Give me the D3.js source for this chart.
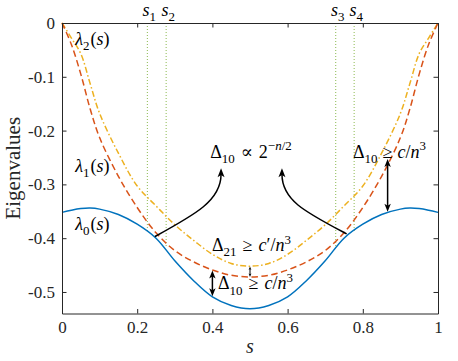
<!DOCTYPE html>
<html>
<head>
<meta charset="utf-8">
<script src="https://cdn.jsdelivr.net/npm/d3@7"></script>
<style>
  body { margin: 0; background: #fff; }
  svg { display: block; }
  text { font-family: "Liberation Serif", "DejaVu Serif", serif; }
</style>
</head>
<body>
<svg id="chart" width="458" height="361"></svg>
<script>
// values
const sGrid   = [0, 0.025, 0.05, 0.075, 0.1, 0.15, 0.2, 0.25, 0.3, 0.35, 0.4, 0.45, 0.5,
                 0.55, 0.6, 0.65, 0.7, 0.75, 0.8, 0.85, 0.9, 0.925, 0.95, 0.975, 1];
const lambda0 = [-0.352, -0.348, -0.345, -0.344, -0.346, -0.356, -0.374, -0.400, -0.442, -0.479, -0.509, -0.525, -0.531,
                 -0.525, -0.509, -0.479, -0.442, -0.400, -0.374, -0.356, -0.346, -0.344, -0.345, -0.348, -0.352];
const lambda1 = [0, -0.040, -0.095, -0.160, -0.213, -0.285, -0.343, -0.390, -0.423, -0.444, -0.459, -0.469, -0.472,
                 -0.469, -0.459, -0.444, -0.423, -0.390, -0.343, -0.285, -0.213, -0.160, -0.095, -0.040, 0];
const lambda2 = [0, -0.028, -0.057, -0.113, -0.168, -0.242, -0.303, -0.340, -0.375, -0.404, -0.430, -0.447, -0.452,
                 -0.447, -0.430, -0.404, -0.375, -0.340, -0.303, -0.242, -0.168, -0.113, -0.057, -0.028, 0];

const xTicks = [0, 0.2, 0.4, 0.6, 0.8, 1];
const xTickLabels = ['0', '0.2', '0.4', '0.6', '0.8', '1'];
const yTicks = [0, -0.1, -0.2, -0.3, -0.4, -0.5];
const yTickLabels = ['0', '-0.1', '-0.2', '-0.3', '-0.4', '-0.5'];

// s_1..s_4 marker lines (drawn from the top down to lambda0)
const sMarks = [0.227, 0.277, 0.728, 0.777];
const sMarkNames = ['1', '2', '3', '4'];
const sMarkEnds = [-0.387, -0.418, -0.418, -0.387];

// double arrows showing the gaps
const gapS    = [0.866, 0.4, 0.5];
const gapLow  = [-0.351, -0.508, -0.472];
const gapHigh = [-0.253, -0.460, -0.4525];

// curved arrows [start, ctrl1, ctrl2, tip] in (s, value)
const curveArrows = [
  [[0.247, -0.397], [0.354, -0.356], [0.423, -0.330], [0.423, -0.270]],
  [[0.757, -0.392], [0.649, -0.352], [0.585, -0.330], [0.585, -0.270]]
];

const width = 458, height = 361;
const margin = {left: 62, right: 20, top: 23, bottom: 47.5};
const font = '"Liberation Serif", "DejaVu Serif", serif';
const axisColor = '#262626';

const svg = d3.select('#chart');

const x = d3.scaleLinear().domain([0, 1]).range([margin.left, width - margin.right]);
const y = d3.scaleLinear().domain([-0.54, 0]).range([height - margin.bottom, margin.top]);

// marker lines
svg.append('g')
  .selectAll('line')
  .data(sMarks)
  .join('line')
  .attr('x1', d => x(d)).attr('x2', d => x(d))
  .attr('y1', y(0)).attr('y2', (d, i) => y(sMarkEnds[i]))
  .attr('stroke', '#77AC30')
  .attr('stroke-opacity', 0.85)
  .attr('stroke-width', 1)
  .attr('stroke-dasharray', '1,2');

// curves
const series = [
  {vals: lambda2, color: '#EDB120', dash: '6,2.5,1.5,2.5'},
  {vals: lambda1, color: '#D95319', dash: '6.5,3.5'},
  {vals: lambda0, color: '#0072BD', dash: null}
];
const line = d3.line()
  .x((d, i) => x(sGrid[i]))
  .y(d => y(d))
  .curve(d3.curveCatmullRom.alpha(0.5));

svg.append('g')
  .selectAll('path')
  .data(series)
  .join('path')
  .attr('d', d => line(d.vals))
  .attr('fill', 'none')
  .attr('stroke', d => d.color)
  .attr('stroke-width', 1.5)
  .attr('stroke-dasharray', d => d.dash);

// axes (box with inward ticks)
const xb = svg.append('g')
  .attr('transform', `translate(0,${y(-0.54)})`)
  .call(d3.axisBottom(x).tickValues(xTicks).tickFormat((d, i) => xTickLabels[i])
    .tickSizeInner(-4.5).tickSizeOuter(0).tickPadding(7));
const xt = svg.append('g')
  .attr('transform', `translate(0,${y(0)})`)
  .call(d3.axisTop(x).tickValues(xTicks).tickFormat('').tickSizeInner(-4.5).tickSizeOuter(0));
const yl = svg.append('g')
  .attr('transform', `translate(${x(0)},0)`)
  .call(d3.axisLeft(y).tickValues(yTicks).tickFormat((d, i) => yTickLabels[i])
    .tickSizeInner(-4.5).tickSizeOuter(0).tickPadding(7));
const yr = svg.append('g')
  .attr('transform', `translate(${x(1)},0)`)
  .call(d3.axisRight(y).tickValues(yTicks).tickFormat('').tickSizeInner(-4.5).tickSizeOuter(0));

[xb, xt, yl, yr].forEach(g => {
  g.attr('font-family', null);
  g.select('.domain').attr('stroke', axisColor).attr('stroke-width', 1);
  g.selectAll('.tick line').attr('stroke', axisColor).attr('stroke-width', 1);
  g.selectAll('.tick text')
    .attr('fill', axisColor)
    .style('font-family', font)
    .attr('font-size', 17);
});

// axis labels
svg.append('text')
  .attr('transform', `translate(20,${(y(0) + y(-0.54)) / 2}) rotate(-90)`)
  .attr('text-anchor', 'middle')
  .style('font-family', font)
  .attr('font-size', 21)
  .attr('fill', axisColor)
  .text('Eigenvalues');

svg.append('text')
  .attr('x', x(0.5)).attr('y', 353)
  .attr('text-anchor', 'middle')
  .style('font-family', font)
  .attr('font-size', 20)
  .attr('font-style', 'italic')
  .attr('fill', axisColor)
  .text('s');

// small helper for text with sub/superscripts
// parts: [string, flags, dx] with flags containing 'i' (italic), 'sub', 'sup'
function mathText(g, px, py, parts, size, anchor) {
  const t = g.append('text')
    .attr('x', px).attr('y', py)
    .style('font-family', font)
    .attr('font-size', size)
    .attr('fill', '#000')
    .attr('text-anchor', anchor || 'start');
  let shift = 0;
  parts.forEach(p => {
    const str = p[0], flags = p[1] || '', dx = p[2];
    const ts = t.append('tspan').text(str);
    const target = flags.includes('sub') ? size * 0.3 : flags.includes('sup') ? -size * 0.42 : 0;
    if (target !== shift) ts.attr('dy', target - shift);
    shift = target;
    if (flags.includes('sub') || flags.includes('sup')) ts.attr('font-size', size * 0.72);
    if (flags.includes('i')) ts.attr('font-style', 'italic');
    if (dx) ts.attr('dx', dx);
  });
  return t;
}

const ann = svg.append('g');

// s_k labels above the top axis
sMarks.forEach((s, i) => {
  mathText(ann, x(s) + 2, 16, [['s', 'i'], [sMarkNames[i], 'sub']], 18, 'middle');
});

// lambda labels
const lamS = [0.035, 0.035, 0.035];
const lamV = [-0.041, -0.277, -0.384];
const lamK = ['2', '1', '0'];
lamK.forEach((k, i) => {
  mathText(ann, x(lamS[i]), y(lamV[i]), [['λ', 'i'], [k, 'sub'], ['(', '', 1], ['s', 'i'], [')', '']], 18);
});

// gap annotations
mathText(ann, x(0.394), y(-0.251),
  [['Δ', ''], ['10', 'sub'], ['∝', '', 6], ['2', '', 6], ['−', 'sup'], ['n', 'sup i'], ['/2', 'sup']], 18);
mathText(ann, x(0.774), y(-0.251),
  [['Δ', ''], ['10', 'sub'], ['≥', '', 5], ['c', 'i', 5], ['/', ''], ['n', 'i'], ['3', 'sup']], 18);
mathText(ann, x(0.399), y(-0.424),
  [['Δ', ''], ['21', 'sub'], ['≥', '', 6], ['c', 'i', 6], ['′', ''], ['/', ''], ['n', 'i'], ['3', 'sup']], 18);
mathText(ann, x(0.415), y(-0.495),
  [['Δ', ''], ['10', 'sub'], ['≥', '', 6], ['c', 'i', 6], ['/', ''], ['n', 'i'], ['3', 'sup']], 18);

// arrowhead helper: tip at (tx,ty), pointing along (dx,dy)
function arrowHead(g, tx, ty, dx, dy, len, wid) {
  const n = Math.hypot(dx, dy); dx /= n; dy /= n;
  const px = -dy, py = dx;
  const bx = tx - dx * len, by = ty - dy * len;
  const nx = tx - dx * len * 0.75, ny = ty - dy * len * 0.75;
  g.append('path')
    .attr('d', `M${tx},${ty}L${bx + px * wid / 2},${by + py * wid / 2}L${nx},${ny}L${bx - px * wid / 2},${by - py * wid / 2}Z`)
    .attr('fill', '#000');
}

gapS.forEach((s, i) => {
  const x0 = x(s), yA = y(gapLow[i]), yB = y(gapHigh[i]);
  const len = Math.min(8, (yA - yB) / 3);
  const wid = len * 0.8;
  ann.append('line')
    .attr('x1', x0).attr('x2', x0)
    .attr('y1', yA - len * 0.7).attr('y2', yB + len * 0.7)
    .attr('stroke', '#000').attr('stroke-width', len < 5 ? 1 : 1.5);
  arrowHead(ann, x0, yA, 0, 1, len, wid);
  arrowHead(ann, x0, yB, 0, -1, len, wid);
});

curveArrows.forEach(pts => {
  const p = pts.map(d => [x(d[0]), y(d[1])]);
  const tip = p[3];
  ann.append('path')
    .attr('d', `M${p[0]}C${p[1]} ${p[2]} ${tip[0]},${tip[1] + 6}`)
    .attr('fill', 'none')
    .attr('stroke', '#000')
    .attr('stroke-width', 1.5);
  arrowHead(ann, tip[0], tip[1], tip[0] - p[2][0], tip[1] - p[2][1], 9, 7);
});
</script>
</body>
</html>
